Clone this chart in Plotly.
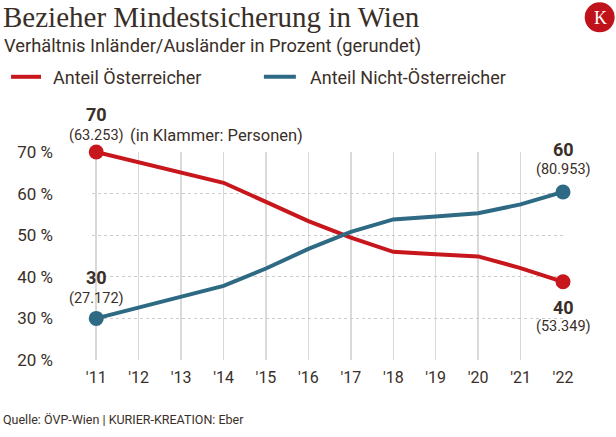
import plotly.graph_objects as go

# ---- data ----
years = [2011, 2012, 2013, 2014, 2015, 2016, 2017, 2018, 2019, 2020, 2021, 2022]
year_labels = ["'11", "'12", "'13", "'14", "'15", "'16", "'17", "'18", "'19", "'20", "'21", "'22"]
share_austrians = [70.0, 67.6, 65.0, 62.6, 58.0, 53.4, 49.4, 46.0, 45.4, 44.9, 42.1, 38.8]
share_non_austrians = [30.0, 32.6, 35.1, 37.8, 42.0, 46.7, 50.8, 53.8, 54.5, 55.3, 57.4, 60.4]
y_ticks = [20, 30, 40, 50, 60, 70]
y_tick_labels = ["20 %", "30 %", "40 %", "50 %", "60 %", "70 %"]
names = ["Anteil Österreicher", "Anteil Nicht-Österreicher"]
start_labels = ["70", "30"]
start_persons = ["(63.253)", "(27.172)"]
end_labels = ["40", "60"]
end_persons = ["(53.349)", "(80.953)"]

RED = "#c8161d"
BLUE = "#2e6a84"
TXT = "#3a2f28"
FONT = "Roboto, sans-serif"

# page body margin is removed in post_script -> figure drawn at (0, 0)
W, H = 616, 437
L = 92
T = 151.7
PW = 563.3 - 92
PH = 359.7 - 151.7
R = W - L - PW
B = H - T - PH

def sx(p):  # screen px -> paper x
    return (p - L) / PW

def sy(p):  # screen px -> paper y
    return (T + PH - p) / PH

fig = go.Figure()
for vals, col, nm in [(share_austrians, RED, names[0]), (share_non_austrians, BLUE, names[1])]:
    fig.add_trace(go.Scatter(x=years, y=vals, mode="lines", name=nm, showlegend=False,
                             line=dict(color=col, width=4), cliponaxis=False, hoverinfo="skip"))
    fig.add_trace(go.Scatter(x=[years[0], years[-1]], y=[vals[0], vals[-1]], mode="markers",
                             marker=dict(color=col, size=15), showlegend=False, cliponaxis=False,
                             hoverinfo="skip"))

def lab(x, y, text, ys, size, bold=False, xs=0, xanchor="center"):
    return dict(x=x, y=y, xref="x", yref="y", text=("<b>%s</b>" % text) if bold else text,
                yshift=ys, xshift=xs, xanchor=xanchor, showarrow=False,
                font=dict(size=size, family=FONT, color=TXT))

ann = [
    lab(years[0], share_austrians[0], start_labels[0], 38, 18, True),
    lab(years[0], share_austrians[0], start_persons[0], 17, 14.5),
    lab(years[0], share_austrians[0], "(in Klammer: Personen)", 17, 16.5, xs=32, xanchor="left"),
    lab(years[0], share_non_austrians[0], start_labels[1], 41, 18, True),
    lab(years[0], share_non_austrians[0], start_persons[1], 20, 14.5),
    lab(years[-1], share_non_austrians[-1], end_labels[1], 42, 18, True),
    lab(years[-1], share_non_austrians[-1], end_persons[1], 22, 14.5),
    lab(years[-1], share_austrians[-1], end_labels[0], -26, 18, True),
    lab(years[-1], share_austrians[-1], end_persons[0], -45, 14.5),
]

def txt(text, x, y, size, family=FONT, color=TXT, xanchor="left"):
    return dict(text=text, x=sx(x), y=sy(y), xref="paper", yref="paper", xanchor=xanchor,
                yanchor="middle", showarrow=False, font=dict(size=size, family=family, color=color))

ann += [
    txt("Bezieher Mindestsicherung in Wien", 1, 17, 29, family="Liberation Serif, DejaVu Serif, serif"),
    txt("Verhältnis Inländer/Ausländer in Prozent (gerundet)", 2, 46, 18.3),
    txt(names[0], 51, 77, 18),
    txt(names[1], 308, 77, 18),
    txt("Quelle: ÖVP-Wien | KURIER-KREATION: Eber", 1, 419, 12.5),
    txt("K", 600.5, 17.5, 18, family="Liberation Serif, serif", color="white", xanchor="center"),
]

shapes = [
    dict(type="line", xref="paper", yref="paper", x0=sx(11), x1=sx(41), y0=sy(76.5), y1=sy(76.5),
         line=dict(color=RED, width=4)),
    dict(type="line", xref="paper", yref="paper", x0=sx(264), x1=sx(296), y0=sy(76.5), y1=sy(76.5),
         line=dict(color=BLUE, width=4)),
    dict(type="circle", xref="paper", yref="paper", x0=sx(585), x1=sx(615), y0=sy(32), y1=sy(2),
         fillcolor="#c0121b", line=dict(width=0)),
]

fig.update_layout(
    width=W, height=H,
    margin=dict(l=L, r=R, t=T, b=B, autoexpand=False),
    paper_bgcolor="white", plot_bgcolor="white",
    showlegend=False,
    hovermode=False,
    xaxis=dict(range=[years[0] - 0.1, years[-1]], tickvals=years, ticktext=year_labels,
               showgrid=True, gridcolor="#d9d9d9", gridwidth=1.5, zeroline=False, showline=False,
               ticks="", ticklabelstandoff=6, tickfont=dict(size=16, family=FONT, color=TXT)),
    yaxis=dict(range=[20, 70], tickvals=y_ticks, ticktext=y_tick_labels, showgrid=True,
               gridcolor="#cccccc", griddash="dot", gridwidth=1, zeroline=False, showline=False,
               ticks="", ticklabelstandoff=38, tickfont=dict(size=17, family=FONT, color=TXT)),
    annotations=ann,
    shapes=shapes,
)

fig.write_html("out.html", config={"displayModeBar": False, "staticPlot": True},
               post_script="document.body.style.margin='0';document.body.style.overflow='hidden';")
